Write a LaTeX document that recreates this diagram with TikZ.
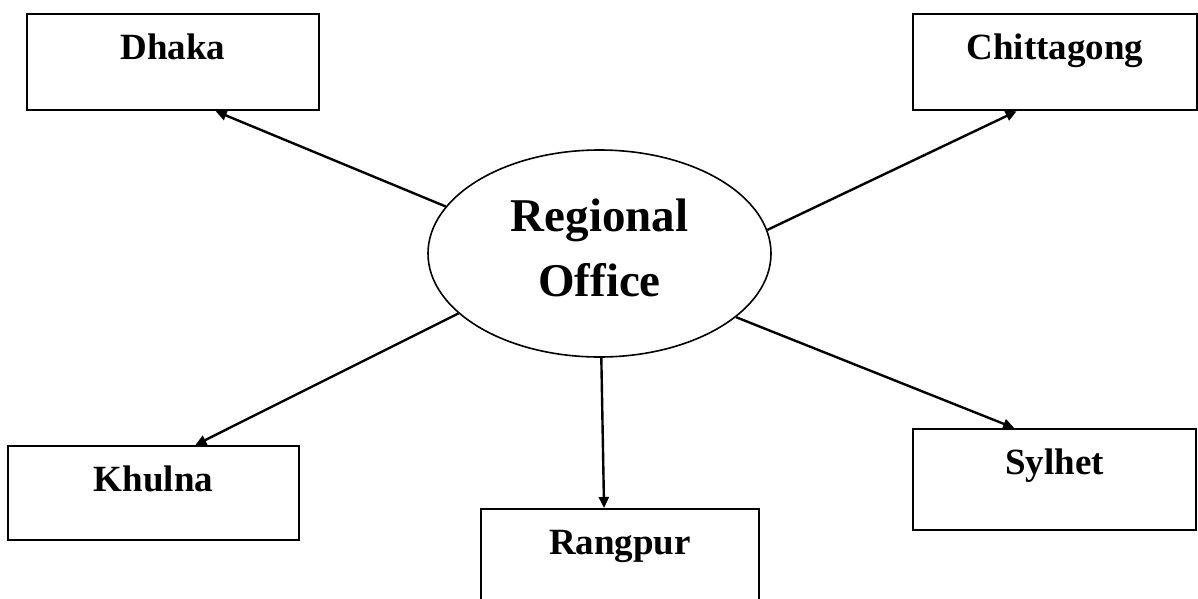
\documentclass[tikz,border=0pt]{standalone}
\usepackage{fontspec}
\setmainfont{Liberation Serif}
\usetikzlibrary{shapes,arrows.meta}

\begin{document}
\begin{tikzpicture}[x=0.5pt,y=-0.5pt]
    \tikzstyle{city}=[rectangle,draw,line width=1.1pt,inner ysep=0pt,text height=22.5pt,anchor=north,font=\fontsize{18.5}{22}\selectfont\bfseries]
    \tikzstyle{office}=[ellipse,draw,line width=0.8pt,inner sep=0pt,minimum width=171.5pt,minimum height=103.5pt,align=center,font=\fontsize{23.5}{32.5}\selectfont\bfseries]
    \tikzstyle{link}=[line width=1.2pt,-{Triangle[length=5.5pt,width=5pt]}]
    \useasboundingbox (0,0) rectangle (1198,599);
    \clip (0,0) rectangle (1198,599);
      % centre
      \node[office,text depth=5.9pt] (office) at (599.5,253.5) {Regional\\Office};
      % regions
      \node[city,minimum width=146pt,text depth=25.5pt] (dhaka) at (173,13) {Dhaka};
      \node[city,minimum width=142pt,text depth=25.5pt] (chittagong) at (1055,13) {Chittagong};
      \node[city,minimum width=145.5pt,text depth=24.5pt] (khulna) at (153.5,445) {Khulna};
      \node[city,minimum width=139pt,text depth=25.5pt] (rangpur) at (620,508) {Rangpur};
      \node[city,minimum width=141.5pt,text depth=28pt] (sylhet) at (1054.5,428) {Sylhet};
      \draw[link] (office.163) -- (dhaka.-49);
      \draw[link] (office.8) -- (chittagong.-128);
      \draw[link] (office.203) -- (khulna.49);
      \draw[link] (office.-89) -- (rangpur.108);
      \draw[link] (office.-25) -- (sylhet.128);
\end{tikzpicture}
\end{document}
